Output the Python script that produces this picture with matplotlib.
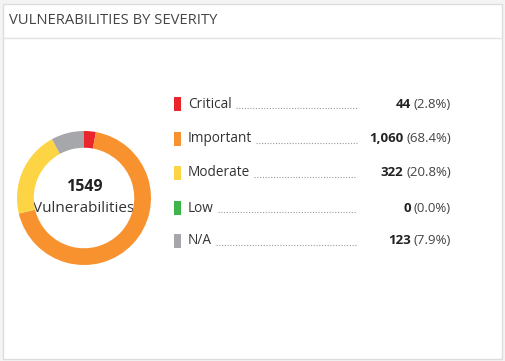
import matplotlib.pyplot as plt
from matplotlib.patches import Rectangle

plt.rcParams['font.family'] = ['Open Sans', 'DejaVu Sans']

labels = ['Critical', 'Important', 'Moderate', 'Low', 'N/A']
counts = [44, 1060, 322, 0, 123]
colors = ['#e8262b', '#f7922e', '#fdd443', '#3db54a', '#a5a7aa']
total = sum(counts)

W, H = 506, 361
fig = plt.figure(figsize=(W / 100, H / 100), dpi=100)
fig.patch.set_facecolor('#f4f4f4')

# pixel-space axes for card + text
bg = fig.add_axes([0, 0, 1, 1])
bg.set_xlim(0, W)
bg.set_ylim(H, 0)
bg.axis('off')
bg.add_patch(Rectangle((3, 4), 499, 355, facecolor='white', edgecolor='#dcdcdc', lw=1))
bg.plot([3, 502], [38, 38], color='#e3e3e3', lw=1)
bg.text(9, 21, 'VULNERABILITIES BY SEVERITY', fontsize=10.6, color='#444444', va='center')

# donut
cx, cy, r = 84, 198, 67
ax = fig.add_axes([(cx - r) / W, (H - cy - r) / H, 2 * r / W, 2 * r / H])
ax.pie(counts, colors=colors, startangle=90, counterclock=False,
       wedgeprops=dict(width=0.25, edgecolor='none'))
ax.set_xlim(-1, 1)
ax.set_ylim(-1, 1)
ax.set_aspect('auto')
bg.text(cx, 187, f'{total}', fontsize=11.5, fontweight='bold', ha='center', va='center', color='#222222')
bg.text(cx, 209, 'Vulnerabilities', fontsize=11, ha='center', va='center', color='#333333')

# legend rows
fig.canvas.draw()
rend = fig.canvas.get_renderer()
inv = bg.transData.inverted()
rows_y = [104, 139, 173, 208, 241]
for lab, n, col, y in zip(labels, counts, colors, rows_y):
    bg.add_patch(Rectangle((174, y - 7), 7, 14, facecolor=col, edgecolor='none'))
    t = bg.text(188, y, lab, fontsize=9.8, va='center', color='#333333')
    pct = bg.text(451, y, f'({n / total * 100:.1f}%)', fontsize=9.5, va='center', ha='right', color='#444444')
    fig.canvas.draw()
    x_end = inv.transform(t.get_window_extent(rend))[1][0]
    pct_left = inv.transform(pct.get_window_extent(rend))[0][0]
    bg.text(pct_left - 3, y, f'{n:,}', fontsize=9.5, fontweight='bold', va='center', ha='right', color='#222222')
    bg.plot([x_end + 4, 357], [y + 4, y + 4], ls=(0, (1, 1.5)), color='#999999', lw=0.8)

fig.savefig('out.png', dpi=100, facecolor=fig.get_facecolor())
